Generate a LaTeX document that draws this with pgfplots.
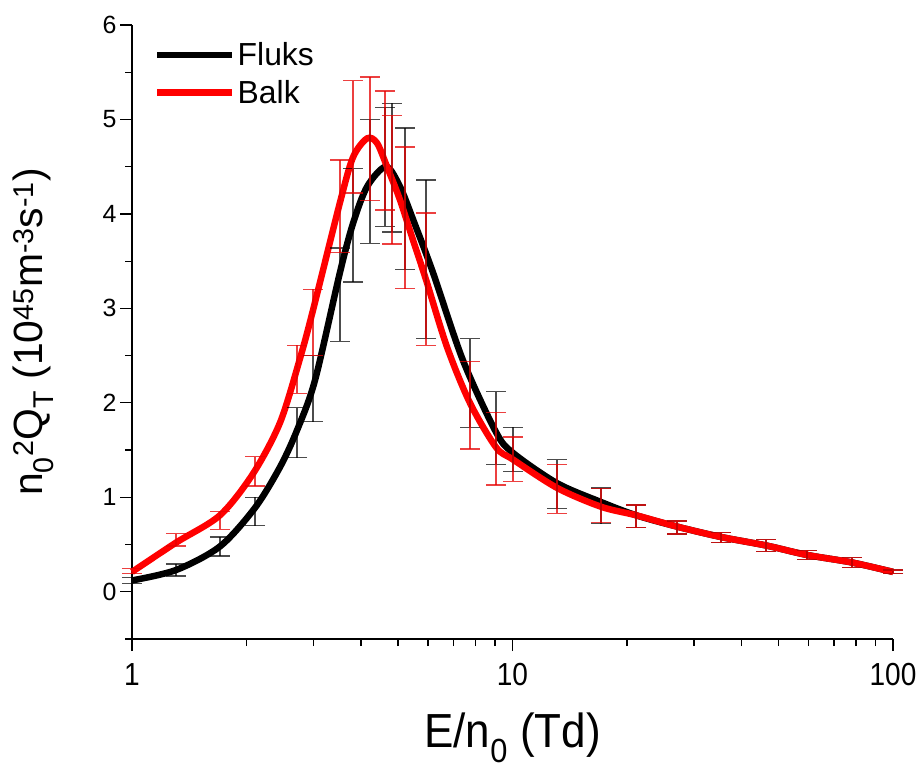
\documentclass[border=0pt]{standalone}
\usepackage{fontspec}
\setmainfont{Liberation Sans}
\usepackage{pgfplots}
\usepackage{pgfplotstable}
\pgfplotsset{compat=1.18}

% Smooth curves: E/n0 (Td) against n0^2 Q_T (10^45 m^-3 s^-1)
\pgfplotstableread{
E      Q
1.000  0.12
1.305  0.23
1.703  0.48
2.106  0.89
2.449  1.32
2.715  1.71
3.027  2.24
3.520  3.38
3.810  3.90
4.150  4.29
4.650  4.50
5.060  4.29
5.480  3.94
6.180  3.38
7.410  2.45
9.050  1.69
10.03  1.47
13.09  1.15
17.09  0.95
21.12  0.81
27.06  0.69
35.30  0.58
46.40  0.49
59.40  0.39
78.00  0.31
100.0  0.21
}\fluks

\pgfplotstableread{
E      Q
1.000  0.21
1.305  0.52
1.703  0.81
2.080  1.25
2.449  1.79
2.764  2.47
2.990  2.98
3.520  4.12
3.810  4.60
4.150  4.80
4.405  4.75
4.680  4.50
5.060  4.15
5.480  3.72
5.930  3.30
6.730  2.59
7.730  2.00
9.050  1.53
10.03  1.40
13.09  1.10
17.09  0.90
21.12  0.81
27.06  0.69
35.30  0.58
46.40  0.49
59.40  0.39
78.00  0.31
100.0  0.21
}\balk

% Error bars: centre and half-width
\pgfplotstableread{
E      Q      err
1.000  0.12   0.03
1.305  0.23   0.064
1.703  0.48   0.10
2.106  0.85   0.15
2.715  1.685  0.265
2.990  2.15   0.35
3.520  3.145  0.495
3.810  3.88   0.60
4.220  4.345  0.655
4.620  4.50   0.63
4.820  4.49   0.68
5.220  4.16   0.75
5.930  3.52   0.84
7.730  2.21   0.47
9.050  1.735  0.385
10.03  1.505  0.235
13.09  1.14   0.26
17.09  0.91   0.19
21.12  0.80   0.12
27.06  0.68   0.07
35.30  0.575  0.055
46.40  0.49   0.06
59.40  0.39   0.05
78.00  0.31   0.05
100.0  0.21   0.02
}\fluksErr

\pgfplotstableread{
E      Q      err
1.000  0.22   0.03
1.305  0.55   0.064
1.703  0.755  0.095
2.106  1.275  0.155
2.715  2.355  0.255
2.990  2.85   0.35
3.520  4.08   0.49
3.810  4.815  0.595
4.220  4.795  0.655
4.620  4.67   0.63
4.820  4.36   0.68
5.220  3.96   0.75
5.930  3.31   0.70
7.730  1.975  0.465
9.050  1.515  0.385
10.03  1.405  0.235
13.09  1.09   0.26
17.09  0.91   0.18
21.12  0.80   0.12
27.06  0.68   0.07
35.30  0.575  0.055
46.40  0.49   0.06
59.40  0.39   0.05
78.00  0.31   0.05
100.0  0.21   0.02
}\balkErr

\begin{document}
\begin{tikzpicture}
\useasboundingbox (-132bp,-130bp) rectangle (791bp,639bp);
\begin{axis}[
  at={(0,0)}, anchor=south west,
  scale only axis, width=761bp, height=614bp,
  xmode=log, xmin=1, xmax=100, ymin=-0.5, ymax=6,
  axis lines*=left,
  axis line style={line width=1.5bp, black},
  tick align=outside,
  major tick length=12bp, minor tick length=7bp,
  every tick/.style={line width=1.3bp, black},
  xtick={1,10,100}, xticklabels={1,10,100},
  minor xtick={2,3,4,5,6,7,8,9,20,30,40,50,60,70,80,90},
  ytick={0,1,2,3,4,5,6},
  minor ytick={-0.5,0.5,1.5,2.5,3.5,4.5,5.5},
  /pgf/number format/assume math mode=true,
  xticklabel style={font=\fontsize{32}{32}\selectfont, xscale=0.88, yshift=-9bp},
  yticklabel style={font=\fontsize{25}{25}\selectfont},
  xlabel={E/n\textsubscript{0} (Td)},
  ylabel={n\textsubscript{0}\textsuperscript{2}Q\textsubscript{T} (10\textsuperscript{45}m\textsuperscript{-3}s\textsuperscript{-1})},
  xlabel style={font=\fontsize{48}{48}\selectfont, xscale=0.92, yshift=-20bp},
  ylabel style={font=\fontsize{41}{41}\selectfont, yshift=42bp},
  legend style={draw=none, fill=none, at={(rel axis cs:0.025,0.978)}, anchor=north west,
    font=\fontsize{32}{32}\selectfont, row sep=9bp},
  legend cell align=left,
  legend image code/.code={\draw[#1] (0bp,0bp) -- (75bp,0bp);},
  clip=false,
]
\addplot[black, line width=6.5bp, smooth, tension=0.5] table[x=E, y=Q] {\fluks};
\addlegendentry{Fluks}
\addplot[red, line width=6.5bp, smooth, tension=0.5] table[x=E, y=Q] {\balk};
\addlegendentry{Balk}

\addplot[draw=none, mark=none, forget plot,
  error bars/.cd, y dir=both, y explicit,
  error bar style={draw=black, line width=1.3bp, opacity=0.7},
  error mark options={rotate=90, mark size=10bp, line width=1.3bp, draw=black, opacity=0.7}]
  table[x=E, y=Q, y error=err] {\fluksErr};
\addplot[draw=none, mark=none, forget plot,
  error bars/.cd, y dir=both, y explicit,
  error bar style={draw=red!90!black, line width=1.3bp, opacity=0.75},
  error mark options={rotate=90, mark size=10bp, line width=1.3bp, draw=red!90!black, opacity=0.75}]
  table[x=E, y=Q, y error=err] {\balkErr};
\end{axis}
\end{tikzpicture}
\end{document}
